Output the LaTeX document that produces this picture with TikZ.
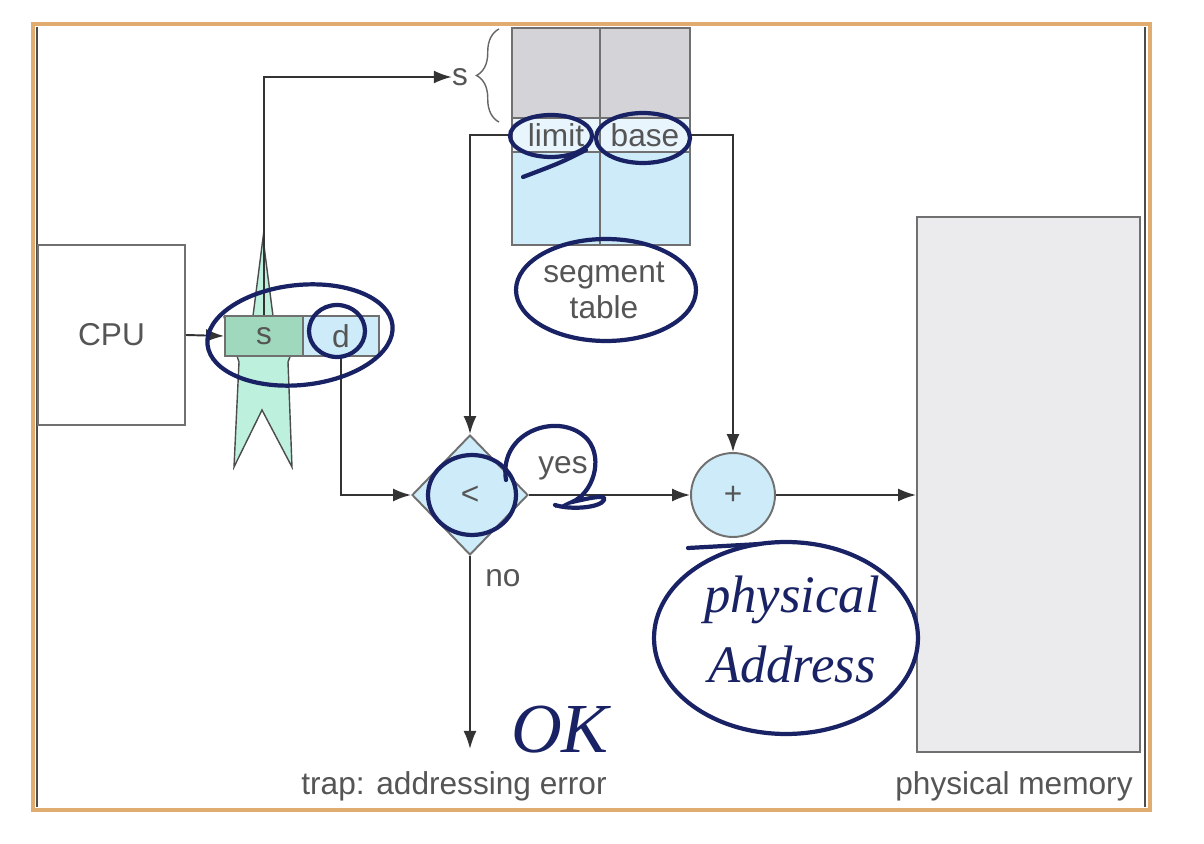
\documentclass[tikz,border=0pt]{standalone}
\usepackage{fontspec}
\setmainfont{Liberation Sans}
\newfontfamily\penfont{Liberation Serif}
\usetikzlibrary{arrows.meta,shapes.geometric,decorations.pathreplacing}

\definecolor{txtgray}{RGB}{85,85,85}
\definecolor{linegray}{RGB}{112,112,112}
\definecolor{cellblue}{RGB}{205,235,248}
\definecolor{rowblue}{RGB}{232,245,252}
\definecolor{tabgray}{RGB}{212,212,216}
\definecolor{memgray}{RGB}{235,235,237}
\definecolor{stargreen}{RGB}{190,240,222}
\definecolor{sgreen}{RGB}{160,216,190}
\definecolor{ink}{RGB}{24,34,100}
\definecolor{frameorange}{RGB}{224,172,112}

\tikzset{
  lbl/.style={text=txtgray, font=\fontsize{18}{20.5}\selectfont, inner sep=0pt},
  box/.style={lbl, draw=linegray, line width=1.1pt},
  conn/.style={draw=black!80, line width=1.1pt, -{Latex[length=0.36cm,width=0.26cm]}},
  pen/.style={draw=ink, line width=2.4pt, line cap=round},
  pentext/.style={text=ink, font=\penfont\itshape\fontsize{30}{30}\selectfont, inner sep=0pt},
}

\begin{document}
\begin{tikzpicture}[x=0.02cm,y=-0.02cm]
\fill[white] (0,0) rectangle (1204,844);
\useasboundingbox (0,0) rectangle (1204,844);

% frame
\draw[frameorange, line width=2.4pt] (33,24) rectangle (1150,810);
\draw[black!70, line width=0.8pt] (37,27) -- (37,807) (1145,27) -- (1145,807);

% cpu and logical address
\node[box, minimum width=2.94cm, minimum height=3.6cm] (cpu) at (111.5,335) {CPU};

\filldraw[fill=stargreen, draw=black!70, line width=0.8pt]
  (263,238) -- (273,316) -- (305,317) -- (288,362) -- (292,467) -- (262,410)
  -- (234,467) -- (239,362) -- (224,317) -- (253,316) -- cycle;

\node[box, fill=sgreen, minimum width=1.56cm, minimum height=0.8cm] (scell) at (264,336) {s};
\node[box, fill=cellblue, minimum width=1.52cm, minimum height=0.8cm] (dcell) at (341,336) {d};

% segment table
\filldraw[fill=tabgray, draw=linegray, line width=1.1pt] (512,28) rectangle (690,118);
\filldraw[fill=cellblue, draw=linegray, line width=1.1pt] (512,152) rectangle (690,245);
\draw[linegray, line width=1.1pt] (600,28) -- (600,245);
\node[box, fill=rowblue, minimum width=1.76cm, minimum height=0.68cm] (limit) at (556,135) {limit};
\node[box, fill=rowblue, minimum width=1.8cm, minimum height=0.68cm] (base) at (645,135) {base};
\node[lbl, align=center] (segtab) at (604,290) {segment\\table};

\node[lbl] (sidx) at (460,77) {s};
\draw[decorate, decoration={brace, amplitude=0.45cm}, draw=black!60, line width=0.8pt]
  (499,122) -- (499,29);

% compare, add, memory
\node[box, diamond, fill=cellblue, minimum width=2.32cm, minimum height=2.4cm] (lt) at (470,495) {<};
\node[box, circle, fill=cellblue, minimum size=1.68cm] (plus) at (733,495) {+};
\node[box, fill=memgray, minimum width=4.46cm, minimum height=10.7cm] (mem) at (1028.5,484.5) {};

\node[lbl] (yes) at (563,468) {yes};
\node[lbl] (no) at (503,578) {no};
\node[lbl] (trap) at (454,786) {trap: addressing error};
\node[lbl] (memlbl) at (1014,786) {physical memory};

\draw[conn] (cpu.east) -- (scell.west);
\draw[conn] (scell.north) |- (sidx.west);
\draw[conn] (limit.west) -| (lt.north);
\draw[conn] (base.east) -| (plus.north);
\draw[conn] (dcell.south) |- (lt.west);
\draw[conn] (lt.east) -- (plus.west);
\draw[conn] (plus.east) -- (plus.east -| mem.west);
\draw[conn] (lt.south) -- ([yshift=0.44cm]lt.south |- trap.north);

% pen marks
\draw[pen, rotate around={6:(300,335)}] (300,335) ellipse [x radius=1.86cm, y radius=1.0cm];
\draw[pen] (337,331) ellipse [x radius=0.56cm, y radius=0.52cm];
\draw[pen] (551,136) ellipse [x radius=0.82cm, y radius=0.42cm];
\draw[pen] (586,150) .. controls (560,163) .. (523,177);
\draw[pen] (643,138) ellipse [x radius=0.94cm, y radius=0.5cm];
\draw[pen] (606,290) ellipse [x radius=1.8cm, y radius=1.02cm];
\draw[pen] (472,495) ellipse [x radius=0.88cm, y radius=0.8cm];
\draw[pen] (506,480) .. controls (498,430) and (562,410) .. (588,440)
  .. controls (604,460) and (592,494) .. (572,502)
  .. controls (590,498) and (606,494) .. (604,500)
  .. controls (600,508) and (570,510) .. (555,505);
\draw[pen] (786,638) ellipse [x radius=2.64cm, y radius=1.92cm];
\draw[pen] (688,548) -- (760,544);

\node[pentext] (phys) at (792,600) {physical};
\node[pentext] (addr) at (792,664) {Address};
\node[pentext, font=\penfont\itshape\fontsize{40}{40}\selectfont] (ok) at (560,730) {OK};
\end{tikzpicture}
\end{document}
